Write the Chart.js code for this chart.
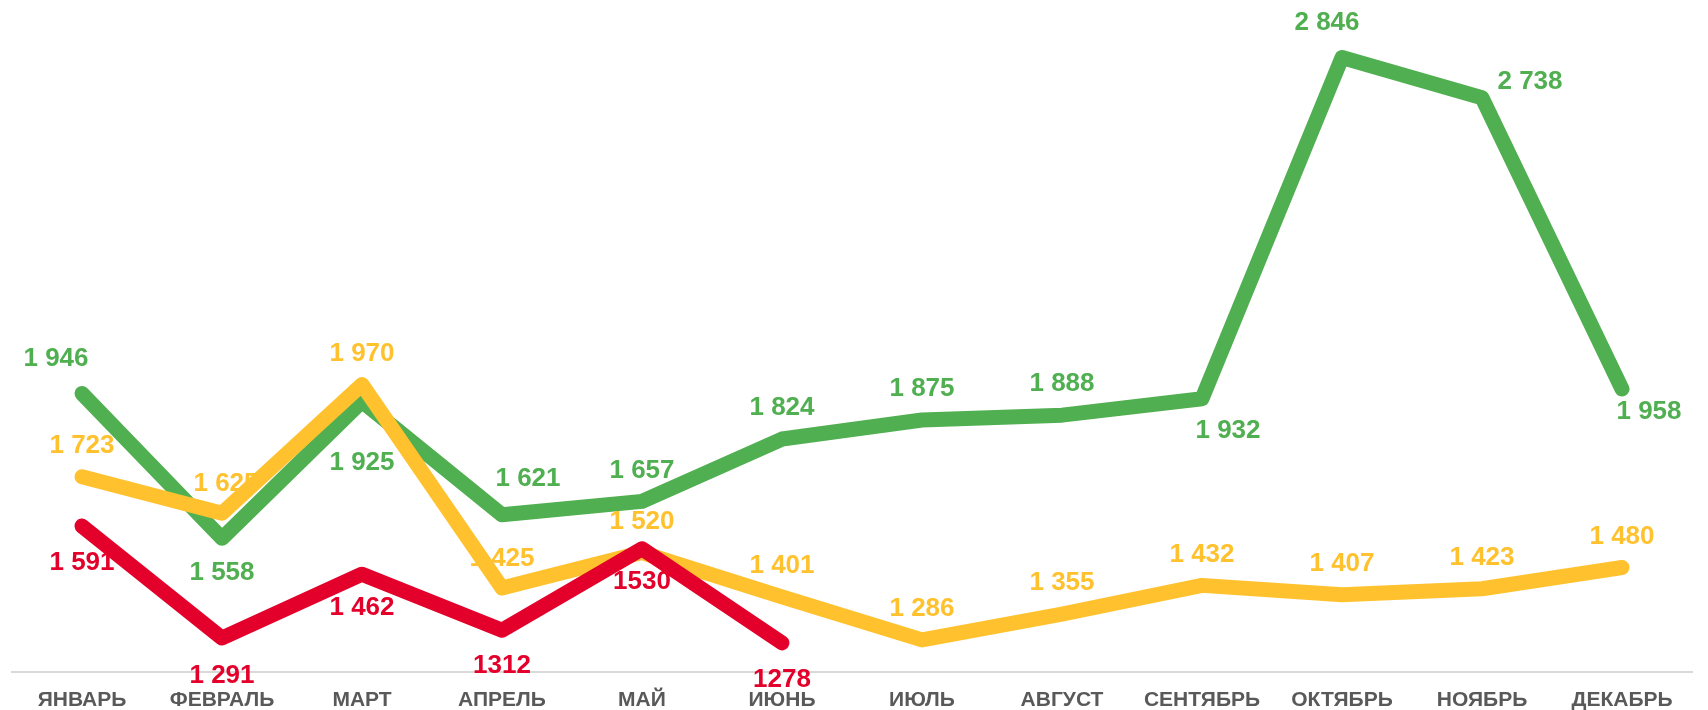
<!DOCTYPE html>
<html>
<head>
<meta charset="utf-8">
<script src="https://cdn.jsdelivr.net/npm/chart.js@4/dist/chart.umd.min.js"></script>
<style>
  html, body { margin: 0; padding: 0; background: #fff; }
  #wrap { width: 1708px; height: 710px; position: relative; }
</style>
</head>
<body>
<div id="wrap"><canvas id="chart"></canvas></div>
<script>
const months = ['ЯНВАРЬ', 'ФЕВРАЛЬ', 'МАРТ', 'АПРЕЛЬ', 'МАЙ', 'ИЮНЬ', 'ИЮЛЬ', 'АВГУСТ', 'СЕНТЯБРЬ', 'ОКТЯБРЬ', 'НОЯБРЬ', 'ДЕКАБРЬ'];

const greenValues = [1946, 1558, 1925, 1621, 1657, 1824, 1875, 1888, 1932, 2846, 2738, 1958];
const yellowValues = [1723, 1625, 1970, 1425, 1520, 1401, 1286, 1355, 1432, 1407, 1423, 1480];
const redValues = [1591, 1291, 1462, 1312, 1530, 1278];

// the red series labels are written without a thousands space from April on
const redLabels = ['1 591', '1 291', '1 462', '1312', '1530', '1278'];

const yMin = 1200;
const yMax = 3000;

const fmt = v => String(v).replace(/\B(?=(\d{3})+(?!\d))/g, ' ');

// label placement around each point, in px: [dx, dy]
const A = [0, -31], B = [0, 34];
const greenPos = [[-26, -35], B, [0, 61], [26, -36], A, A, A, A, [26, 32], [-15, -35], [48, -16], [27, 23]];
const yellowPos = [A, [4, -30], A, [0, -29], A, A, A, A, A, A, A, A];
const redPos = [[0, 37], [0, 38], [0, 34], [0, 36], [0, 33], [0, 37]];

const labelsPlugin = {
  id: 'pointLabels',
  afterDatasetsDraw(chart) {
    const ctx = chart.ctx;
    ctx.save();
    ctx.font = 'bold 26px "Liberation Sans", Arial, sans-serif';
    ctx.textAlign = 'center';
    ctx.textBaseline = 'middle';
    chart.data.datasets.forEach((ds, i) => {
      const meta = chart.getDatasetMeta(i);
      meta.data.forEach((pt, j) => {
        const off = ds.labelPos[j];
        ctx.fillStyle = ds.borderColor;
        ctx.fillText(ds.labelText[j], pt.x + off[0], pt.y + off[1]);
      });
    });
    ctx.restore();
  }
};

const ctx = document.getElementById('chart').getContext('2d');

const lineStyle = {
  fill: false,
  tension: 0,
  borderWidth: 15,
  borderCapStyle: 'round',
  borderJoinStyle: 'round',
  pointRadius: 0,
  pointHoverRadius: 0,
  clip: false
};

new Chart(ctx, {
  type: 'line',
  data: {
    labels: months,
    datasets: [
      {
        ...lineStyle,
        label: 'red',
        data: redValues,
        borderColor: '#E3002B',
        labelText: redLabels,
        labelPos: redPos
      },
      {
        ...lineStyle,
        label: 'yellow',
        data: yellowValues,
        borderColor: '#FFC22E',
        labelText: yellowValues.map(fmt),
        labelPos: yellowPos
      },
      {
        ...lineStyle,
        label: 'green',
        data: greenValues,
        borderColor: '#50AF50',
        labelText: greenValues.map(fmt),
        labelPos: greenPos
      }
    ]
  },
  options: {
    animation: false,
    responsive: true,
    maintainAspectRatio: false,
    layout: {
      padding: { left: 12, right: 16, top: 0, bottom: 0 }
    },
    plugins: {
      legend: { display: false },
      tooltip: { enabled: false }
    },
    scales: {
      x: {
        offset: true,
        grid: { display: false },
        border: { color: '#d9d9d9', width: 2 },
        ticks: {
          color: '#595959',
          padding: 8,
          maxRotation: 0,
          autoSkip: false,
          font: { family: '"Liberation Sans", Arial, sans-serif', size: 21, weight: 'bold' }
        },
        afterFit(scale) { scale.height = 38; }
      },
      y: {
        display: false,
        min: yMin,
        max: yMax
      }
    }
  },
  plugins: [labelsPlugin]
});
</script>
</body>
</html>
